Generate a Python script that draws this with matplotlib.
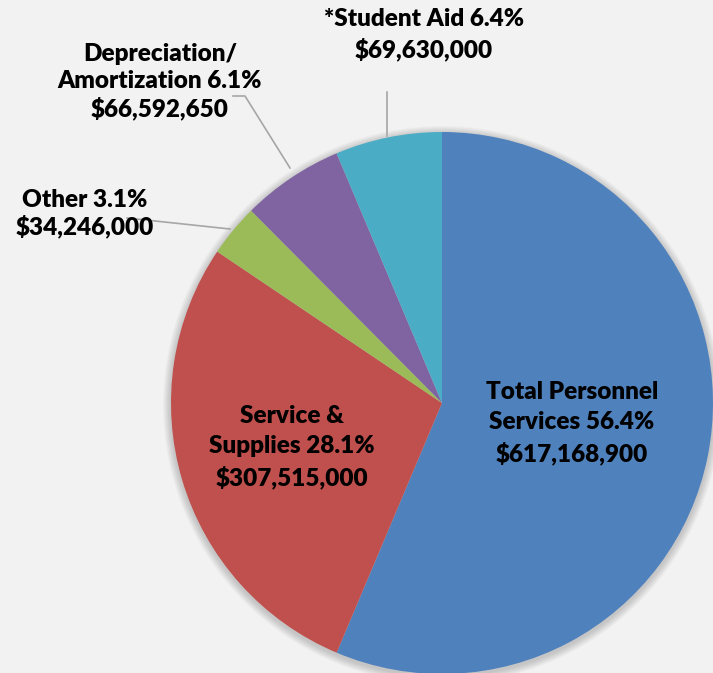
import numpy as np
import matplotlib
import matplotlib.pyplot as plt
from matplotlib.patches import Circle
matplotlib.use('Agg')

categories = ["Total Personnel Services", "Service & Supplies", "Other",
              "Depreciation/ Amortization", "*Student Aid"]
values = [617168900, 307515000, 34246000, 66592650, 69630000]
colors = ["#4F81BD", "#C0504D", "#9BBB59", "#8064A2", "#4BACC6"]
labels = ["Total Personnel\nServices 56.4%\n$617,168,900",
          "Service &\nSupplies 28.1%\n$307,515,000",
          "Other 3.1%\n$34,246,000",
          "Depreciation/\nAmortization 6.1%\n$66,592,650",
          "*Student Aid 6.4%\n$69,630,000"]

W, H = 713, 673
fig = plt.figure(figsize=(W / 100, H / 100), dpi=100, facecolor="#F2F2F2")
ax = fig.add_axes([0, 0, 1, 1])
ax.set_facecolor("#F2F2F2")

cx, cy, r = 442, H - 403, 271

# soft shadow round the pie
for k in range(8, 0, -1):
    ax.add_patch(Circle((cx, cy - 2), r + k, color="black", alpha=0.025, lw=0, zorder=1))

ax.pie(values, colors=colors, startangle=90, counterclock=False,
       center=(cx, cy), radius=r, frame=True,
       wedgeprops=dict(linewidth=0, zorder=2))
ax.set_xlim(0, W)
ax.set_ylim(0, H)
ax.axis("off")

font = dict(family="Lato", weight="heavy", fontsize=17.5, color="black",
            ha="center", va="center", zorder=5)

# label positions in pixel coords (x, y from top)
pos = [(572, 423, 1.45), (292, 447, 1.45), (85, 214, 1.2),
       (160, 82, 1.25), (424, 35, 1.4)]
for lab, (x, y, ls) in zip(labels, pos):
    ax.text(x, H - y, lab, linespacing=ls, **font)

# leader lines
line = dict(color="#A6A6A6", lw=1.2, zorder=3)
ax.plot([387, 387], [H - 92, H - 136], **line)
ax.plot([233, 245, 290], [H - 96, H - 96, H - 168], **line)
ax.plot([127, 230], [H - 218, H - 229], **line)

fig.savefig("out.png", dpi=100, facecolor=fig.get_facecolor())
